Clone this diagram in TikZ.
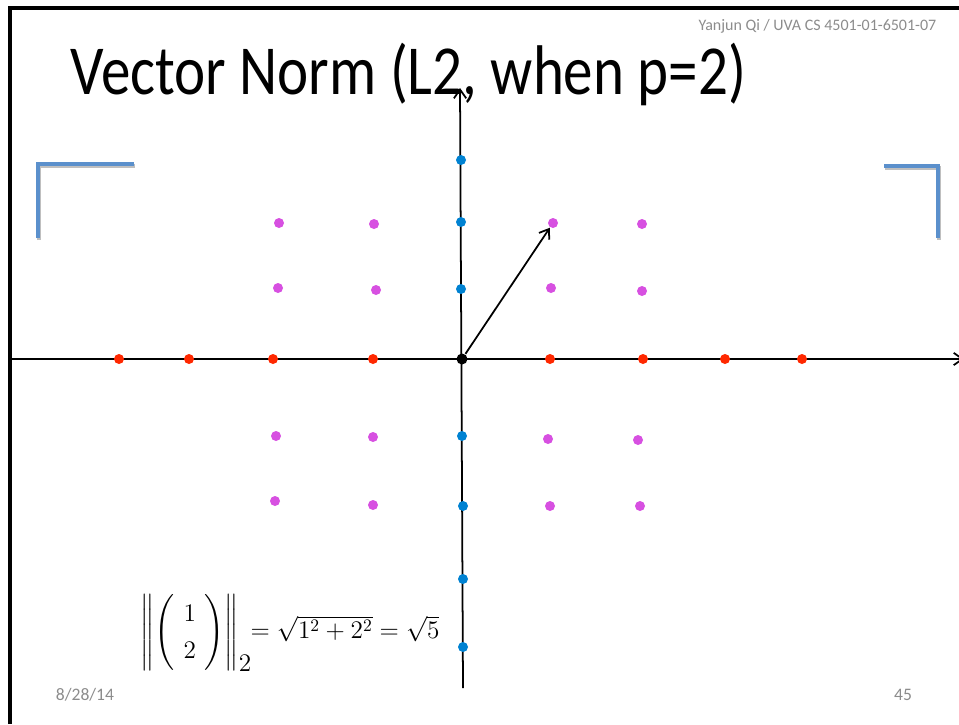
\documentclass[tikz,border=0pt]{standalone}
\usepackage{fontspec}
\usepackage{amsmath}
\newfontfamily\slidefont{Carlito}
\usetikzlibrary{arrows.meta}
\definecolor{dotred}{RGB}{255,40,0}
\definecolor{dotblue}{RGB}{0,130,210}
\definecolor{dotpink}{RGB}{215,80,225}
\definecolor{brackblue}{RGB}{91,144,204}
\definecolor{notegray}{RGB}{140,140,140}
\tikzset{
  dot/.style={circle,inner sep=0pt,minimum size=0.2cm},
  reddot/.style={dot,fill=dotred},
  bluedot/.style={dot,fill=dotblue},
  pinkdot/.style={dot,fill=dotpink},
  axis/.style={line width=1pt,-{Straight Barb[length=5pt,width=7pt]}},
  bracket/.style={line width=2.2pt,brackblue},
  note/.style={font=\slidefont\fontsize{9.1}{11}\selectfont,text=notegray,inner sep=0pt}
}
\begin{document}
\begin{tikzpicture}[x=0.02cm,y=-0.02cm,thick]
\useasboundingbox (0,0) rectangle (959,724);
% slide frame
\draw[line width=1.8pt] (10,724) -- (10,8) -- (965,8);
% header, title and footer
\node[note,anchor=base east] (author) at (937,30) {Yanjun Qi / UVA CS 4501-01-6501-07};
\node[anchor=base west,inner sep=0pt,font=\slidefont\fontsize{40}{44}\selectfont,xscale=0.84] (title) at (70,94) {Vector Norm (L2, when p=2)};
\node[note,font=\slidefont\fontsize{10}{12}\selectfont] (date) at (85,695) {8/28/14};
\node[note,font=\slidefont\fontsize{10}{12}\selectfont] (page) at (903,695) {45};
% corner brackets
\draw[bracket,black!25,line width=2.5pt] (39,240) -- (39,166) -- (135,166);
\draw[bracket] (38,238) -- (38,164) -- (134,164);
\draw[bracket,black!25,line width=2.5pt] (885,168) -- (939,168) -- (939,240);
\draw[bracket] (884,166) -- (938,166) -- (938,238);
% axes
\coordinate (xl) at (10,359);
\coordinate (xr) at (964,359);
\coordinate (yb) at (463,688);
\coordinate (yt) at (460,88);
\draw[axis] (xl) -- (xr);
\draw[axis] (yb) -- (yt);
% points
\foreach \x in {119,189,273,373,550,643,725,802}
  \node[reddot] (r\x) at (\x,359) {};
\foreach \x/\y in {461/160,461/222,461/289,462/436,463/506,463/579,463/647}
  \node[bluedot] (b\y) at (\x,\y) {};
\foreach \x/\y in {279/223,374/224,553/223,642/224,
                   278/288,376/290,551/288,642/291,
                   276/436,373/437,548/439,638/440,
                   275/501,373/505,550/506,640/506}
  \node[pinkdot] (p\x-\y) at (\x,\y) {};
\node[dot,fill=black,minimum size=0.22cm] (o) at (462,359) {};
\draw[-{Straight Barb[length=5pt,width=7pt]},line width=1pt] (o) -- (p553-223);
% formula
\node[anchor=west,inner sep=0pt,font=\fontsize{14.5}{17}\selectfont] (norm) at (140,633)
  {\renewcommand{\arraystretch}{1.25}$\left\|\left(\begin{array}{c}1\\2\end{array}\right)\right\|_{\textstyle 2}\!\!=\sqrt{1^2+2^2}=\sqrt{5}$};
\end{tikzpicture}
\end{document}
